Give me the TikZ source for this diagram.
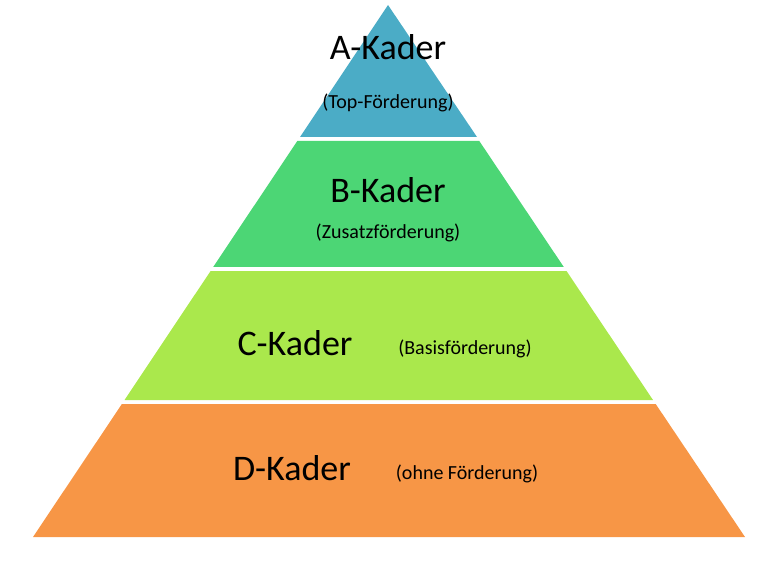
\documentclass[tikz,border=0pt]{standalone}
\usepackage{fontspec}
\setmainfont{Carlito}
\definecolor{kaderA}{HTML}{4BACC6}
\definecolor{kaderB}{HTML}{4CD675}
\definecolor{kaderC}{HTML}{AAE84C}
\definecolor{kaderD}{HTML}{F79646}
\tikzset{
  big/.style={font=\fontsize{36}{40}\selectfont},
  small/.style={font=\fontsize{20}{24}\selectfont},
}
\begin{document}
\begin{tikzpicture}[x=1pt,y=-1pt]
\useasboundingbox (0,0) rectangle (772,567);
% bands of the pyramid
\fill[kaderA] (388,5) -- (477,137) -- (300,137) -- cycle;
\fill[kaderB] (297.3,141) -- (479.3,141) -- (563.8,267) -- (213.2,267) -- cycle;
\fill[kaderC] (210.6,271) -- (566.5,271) -- (653,400) -- (124.5,400) -- cycle;
\fill[kaderD] (121.9,404) -- (655.7,404) -- (745,537) -- (33,537) -- cycle;
% labels
\node[big] (A) at (388,47) {A-Kader};
\node[small] (Atop) at (388,103) {(Top-Förderung)};
\node[big] (B) at (388,190) {B-Kader};
\node[small] (Bzus) at (388,233) {(Zusatzförderung)};
\node[big] (C) at (295,343) {C-Kader};
\node[small] (Cbas) at (465,349) {(Basisförderung)};
\node[big] (D) at (292,468) {D-Kader};
\node[small] (Dohne) at (467,474) {(ohne Förderung)};
\end{tikzpicture}
\end{document}
